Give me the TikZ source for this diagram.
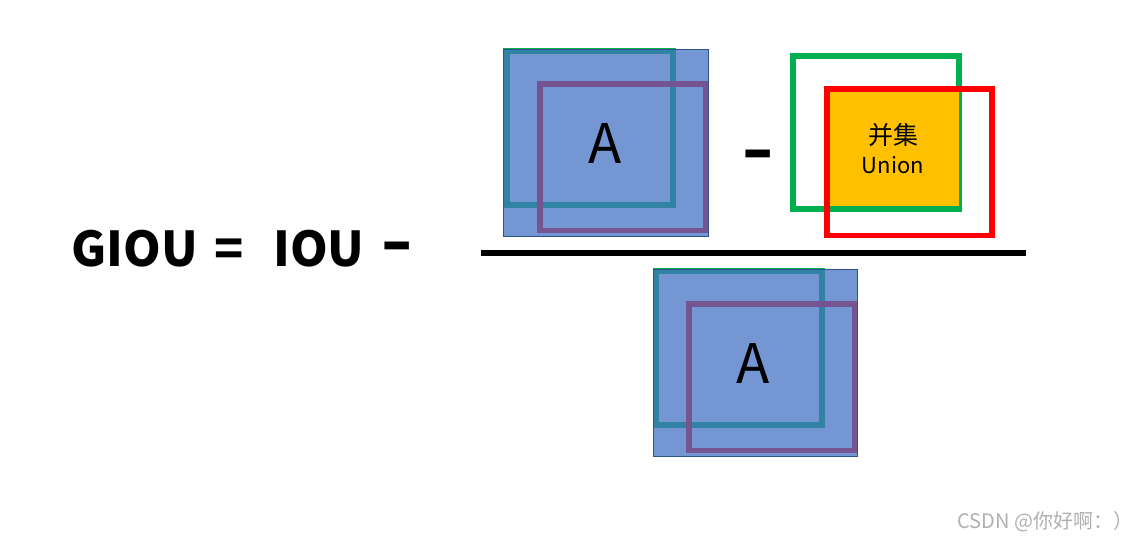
\documentclass[tikz,border=0pt]{standalone}
\usepackage{fontspec}
\setmainfont{Liberation Sans}
\newfontfamily\cjk{Noto Sans CJK SC}
\definecolor{boxgreen}{RGB}{0,176,80}
\definecolor{boxred}{RGB}{255,0,0}
\definecolor{fillblue}{RGB}{68,114,196}
\definecolor{edgeblue}{RGB}{47,82,143}
\definecolor{unionfill}{RGB}{255,192,0}
\definecolor{markgray}{RGB}{176,176,176}
\begin{document}
\begin{tikzpicture}[x=1pt,y=-1pt,
  gbox/.style={draw=boxgreen,line width=6.3pt},
  rbox/.style={draw=boxred,line width=5.8pt},
  ablue/.style={fill=fillblue,fill opacity=0.74,draw=edgeblue,draw opacity=1,line width=1pt},
  bigA/.style={font=\cjk\fontsize{54.6}{54.6}\selectfont,anchor=base,inner sep=0pt},
  minus/.style={font=\fontsize{100}{100}\selectfont,anchor=base,inner sep=0pt},
  eqtext/.style={font=\cjk\bfseries\fontsize{48}{48}\selectfont,inner sep=0pt},
  uniontext/.style={font=\cjk\fontsize{22}{22}\selectfont,inner sep=0pt}]
\useasboundingbox (0,0) rectangle (1137,541);
\fill[white] (0,0) rectangle (1137,541);
% left part of the equation
\node[eqtext,anchor=base west] (giou) at (71.5,266) {GIOU};
\node[eqtext,anchor=base] (eq) at (229,266) {=};
\node[eqtext,anchor=base west] (iou) at (273,266) {IOU};
\node[minus] (m1) at (397,272) {-};
% numerator: box A
\draw[gbox] (506.5,51.3) rectangle (672.7,204.7);
\draw[rbox] (539.8,84) rectangle (705.5,230.5);
\draw[ablue] (503.5,49.5) rectangle (708,236.5);
\node[bigA] (a1) at (605,163) {A};
% minus
\node[minus] (m2) at (758.4,180.9) {-};
% union
\draw[boxgreen,line width=6pt] (793,56) rectangle (959,208.7);
\fill[unionfill] (829,91) rectangle (959,206);
\draw[boxred,line width=5.6pt] (826.7,89) rectangle (992,235.5);
\node[uniontext,font=\cjk\fontsize{25}{25}\selectfont] (u1) at (893,135) {并集};
\node[uniontext,anchor=base] (u2) at (893,173) {Union};
% fraction line
\coordinate (fl) at (481,253);
\coordinate (fr) at (1026,253);
\draw[line width=5.5pt] (fl) -- (fr);
% denominator: box A
\begin{scope}[shift={(149.5,220)}]
\draw[gbox] (506.5,51.3) rectangle (672.7,204.7);
\draw[rbox] (539.8,84) rectangle (705.5,230.5);
\draw[ablue] (503.5,49.5) rectangle (708,236.5);
\node[bigA] (a2) at (604,163) {A};
\end{scope}
% watermark
\node[font=\cjk\fontsize{20}{20}\selectfont,text=markgray,anchor=base,inner sep=0pt] (wm) at (1045.5,528.5) {CSDN @你好啊：）};
\end{tikzpicture}
\end{document}
